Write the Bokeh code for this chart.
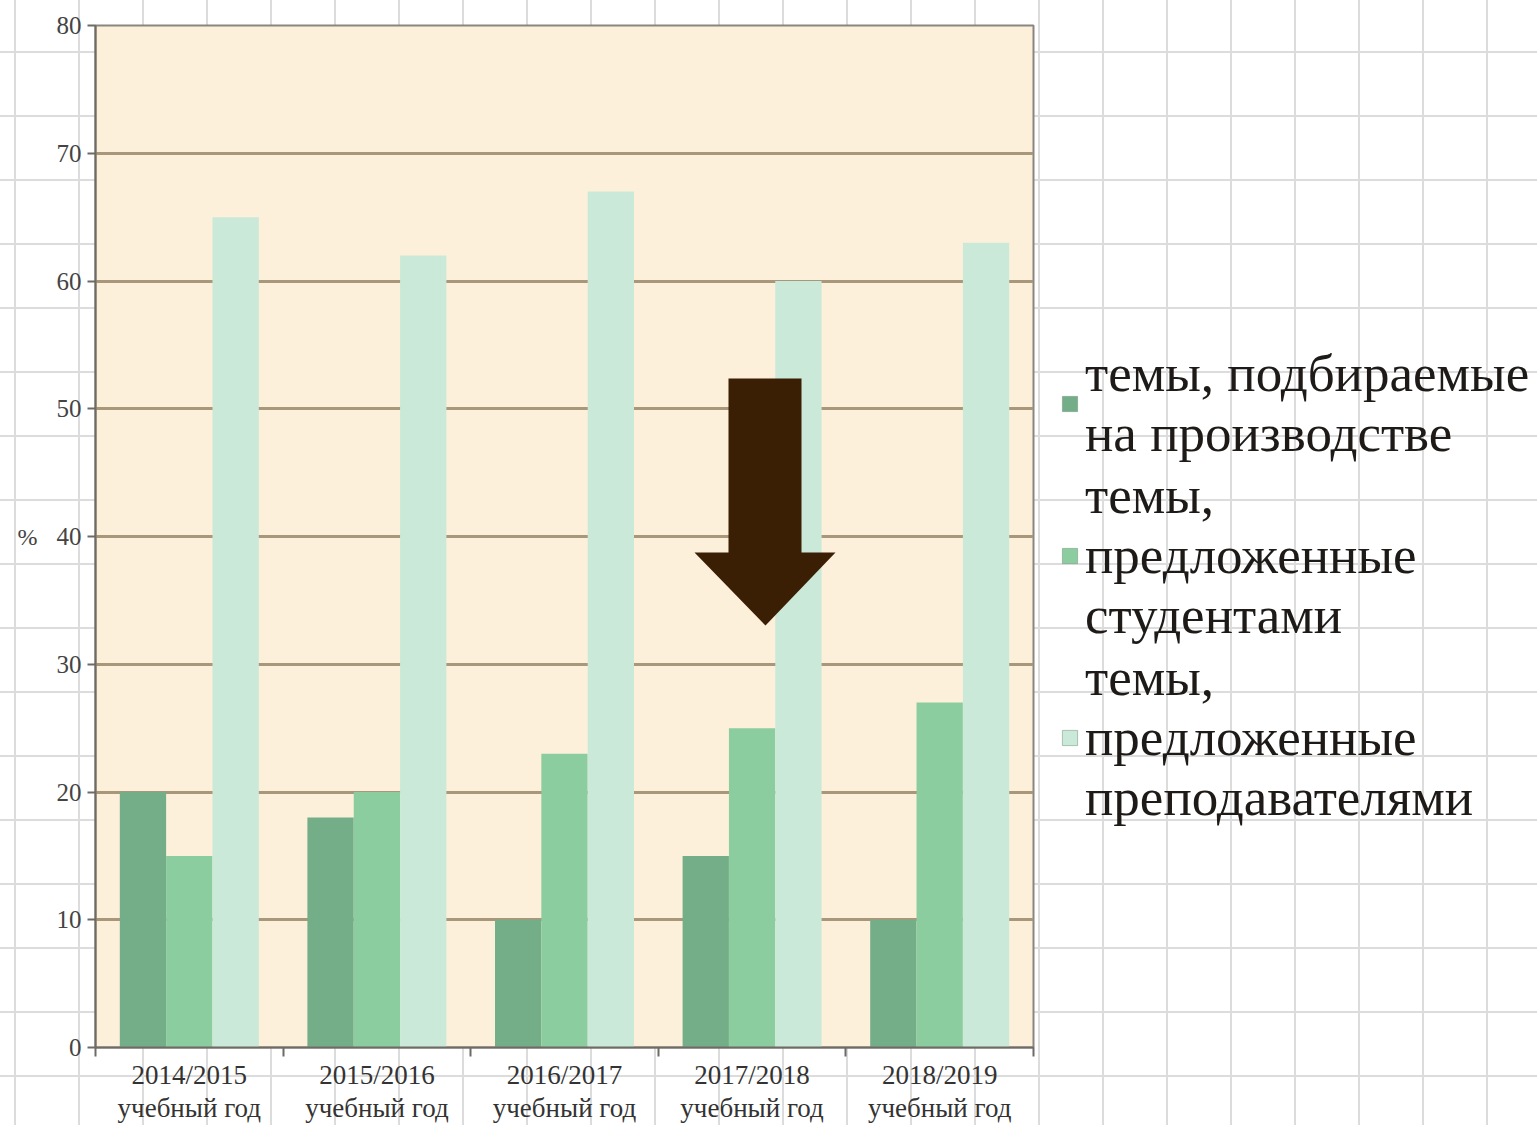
from bokeh.plotting import figure
from bokeh.layouts import row
from bokeh.models import (ColumnDataSource, Range1d, LinearAxis,
                          FixedTicker, Legend, LegendItem, PolyAnnotation)
from bokeh.transform import dodge
from bokeh.embed import file_html
from bokeh.resources import INLINE

# ---- data ----
years = ["2014/2015\nучебный год", "2015/2016\nучебный год", "2016/2017\nучебный год",
         "2017/2018\nучебный год", "2018/2019\nучебный год"]
production = [20, 18, 10, 15, 10]
students = [15, 20, 23, 25, 27]
teachers = [65, 62, 67, 60, 63]
series_labels = ["темы, подбираемые\nна производстве",
                 "темы,\nпредложенные\nстудентами",
                 "темы,\nпредложенные\nпреподавателями"]
y_ticks = [0, 10, 20, 30, 40, 50, 60, 70, 80]

# ---- styling ----
colors = ["#74ae88", "#8ccd9f", "#cae9d8"]
H = 1125
WA, WB = 1040, 497
FL, FT, FR, FB = 95, 25, 1033, 1048   # frame box in canvas px
SERIF = "Liberation Serif"


def paper(offset_x):
    return {
        "background-color": "white",
        "background-image": ("linear-gradient(to right, #dcdcdc 2px, transparent 2px), "
                             "linear-gradient(to bottom, #dcdcdc 2px, transparent 2px)"),
        "background-size": "64px 64px",
        "background-position": f"{offset_x}px 51px",
    }


n = len(years)
centers = [i + 0.5 for i in range(n)]
bounds = list(range(n + 1))
src = ColumnDataSource(dict(pos=centers, year=years, production=production,
                            students=students, teachers=teachers))

p = figure(width=WA, height=H, x_range=Range1d(0, n), y_range=Range1d(0, 80),
           x_axis_location=None, y_axis_location="left",
           output_backend="svg", toolbar_location=None,
           min_border_left=FL, min_border_top=FT, min_border_right=WA - FR, min_border_bottom=H - FB)
p.background_fill_color = "#fdf0db"
p.border_fill_color = None
p.outline_line_color = "#8a8580"
p.outline_line_width = 2
p.styles = paper(14)

# y axis
ya = p.yaxis[0]
ya.ticker = FixedTicker(ticks=y_ticks)
ya.major_label_text_font = SERIF
ya.major_label_text_font_size = "25px"
ya.major_label_text_color = "#444444"
ya.major_tick_out = 8
ya.major_tick_in = 0
ya.minor_tick_line_color = None
ya.major_tick_line_color = "#6e6a66"
ya.major_tick_line_width = 2
ya.axis_line_color = "#6e6a66"
ya.axis_line_width = 2
ya.major_label_standoff = 6
ya.axis_label = "%"
ya.axis_label_orientation = "horizontal"
ya.axis_label_text_font = SERIF
ya.axis_label_text_font_style = "normal"
ya.axis_label_text_font_size = "24px"
ya.axis_label_text_color = "#444444"
ya.axis_label_standoff = 16

p.ygrid.ticker = FixedTicker(ticks=y_ticks)
p.ygrid.grid_line_color = "#a8977a"
p.ygrid.grid_line_width = 3
for g in p.xgrid:
    g.visible = False

# x axis: labels at category centres, tick marks at category boundaries
xa = LinearAxis(ticker=FixedTicker(ticks=centers, minor_ticks=bounds),
                major_label_overrides={c: y for c, y in zip(centers, years)},
                major_tick_line_color=None, major_tick_out=0, major_tick_in=0,
                minor_tick_line_color="#6e6a66", minor_tick_line_width=2,
                minor_tick_out=9, minor_tick_in=0,
                axis_line_color="#6e6a66", axis_line_width=2,
                major_label_text_font=SERIF, major_label_text_font_size="27px",
                major_label_text_color="#333333", major_label_standoff=3,
                major_label_text_line_height=1.1)
p.add_layout(xa, "below")

# bars
bw = 0.247
keys = ["production", "students", "teachers"]
offsets = [-bw, 0, bw]
for key, off, col in zip(keys, offsets, colors):
    p.vbar(x=dodge("pos", off), top=key, width=bw, source=src, fill_color=col, line_color=None)

# decorative arrow
p.add_layout(PolyAnnotation(xs=[728, 801, 801, 835, 765, 694, 728],
                            ys=[378, 378, 552, 552, 625, 552, 552],
                            xs_units="canvas", ys_units="canvas",
                            fill_color="#3b1f04", fill_alpha=1, line_color=None, level="overlay"))

# ---- legend panel (right side) ----
q = figure(width=WB, height=H, x_axis_location=None, y_axis_location=None,
           output_backend="svg", toolbar_location=None, min_border=0)
q.background_fill_color = None
q.border_fill_color = None
q.outline_line_color = None
q.grid.visible = False
q.styles = paper(62)
leg_renderers = []
for key, off, col in zip(keys, offsets, colors):
    r = q.vbar(x=dodge("pos", off), top=key, width=bw, source=src, fill_color=col,
               line_color="#6f8f7a", line_alpha=0.5, visible=False)
    leg_renderers.append(r)

legend = Legend(items=[LegendItem(label=lab, renderers=[r]) for lab, r in zip(series_labels, leg_renderers)],
                location=(20, 220), orientation="vertical",
                label_text_font=SERIF, label_text_font_size="53px", label_text_color="#1e1a18",
                label_text_line_height=1.19,
                glyph_width=19, glyph_height=19, label_standoff=6, spacing=2,
                padding=0, margin=0, background_fill_alpha=0, border_line_color=None,
                inactive_fill_alpha=0)
q.add_layout(legend, "center")

layout = row(p, q, spacing=0)
open("out.html", "w").write(file_html(layout, INLINE))
